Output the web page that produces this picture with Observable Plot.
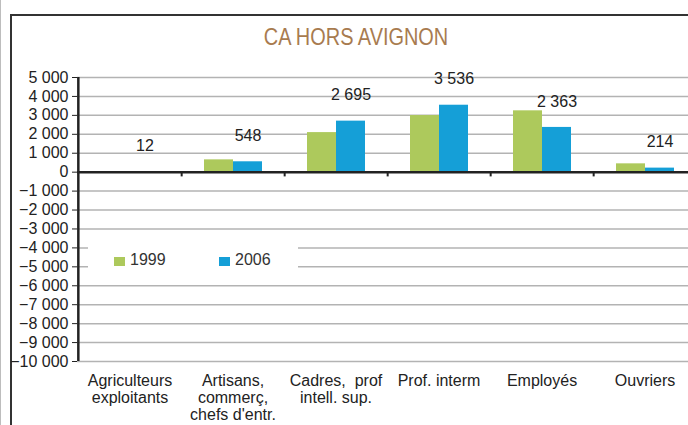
<!DOCTYPE html>
<html><head><meta charset="utf-8">
<script src="https://cdn.jsdelivr.net/npm/d3@7"></script>
<script src="https://cdn.jsdelivr.net/npm/@observablehq/plot@0.6"></script>
<style>
html,body{margin:0;padding:0;background:#fff;overflow:hidden;}
#wrap{position:relative;width:688px;height:425px;overflow:hidden;font-family:"Liberation Sans",Arial,sans-serif;}
#wrap svg{position:absolute;left:0;top:0;overflow:visible;}
.outer{position:absolute;left:0px;top:0;width:1px;height:425px;background:#bdbdbd;}
.frame{position:absolute;left:10px;top:14px;right:-5px;bottom:-5px;border-left:2px solid #333;border-top:2px solid #333;}
#title{position:absolute;left:206px;width:300px;top:23px;text-align:center;font-family:"Liberation Sans",Arial,sans-serif;font-size:24px;color:#a87b4f;white-space:nowrap;transform:scaleX(0.83);transform-origin:50% 50%;}
#legend{position:absolute;left:88px;top:240px;width:210px;height:38px;background:#fff;z-index:2;}
.sw{position:absolute;top:17px;width:11px;height:9px;}
.lt{position:absolute;top:11px;font-size:16px;color:#333;}
</style></head>
<body>
<div id="wrap">
  <div class="outer"></div>
  <div class="frame"></div>
  <div id="chart"></div>
  <div id="title">CA HORS AVIGNON</div>
  <div id="legend"></div>
</div>
<script>
const categories = ["Agriculteurs\nexploitants", "Artisans,\ncommerç,\nchefs d'entr.", "Cadres,  prof\nintell. sup.", "Prof. interm", "Employés", "Ouvriers"];
const series = ["1999", "2006"];
const v1999 = [20, 650, 2090, 2990, 3240, 440];
const v2006 = [12, 548, 2695, 3536, 2363, 214];
const yTicks = [5000, 4000, 3000, 2000, 1000, 0, -1000, -2000, -3000, -4000, -5000, -6000, -7000, -8000, -9000, -10000];
const colors = ["#adc95c", "#159fd7"];

const fmt = d => (d < 0 ? "\u2212" : "") + d3.format(",")(Math.abs(d)).replace(/,/g, " ");
const bw = 620 / 6;

const chart = Plot.plot({
  width: 688, height: 425,
  marginLeft: 77, marginRight: 0, marginTop: 77, marginBottom: 64,
  style: {fontFamily: "'Liberation Sans', Arial, sans-serif", fontSize: "16px", color: "#222", background: "transparent", overflow: "visible"},
  x: {domain: categories, range: [77, 697], padding: 0, axis: null},
  y: {domain: [-10000, 5000], ticks: yTicks, tickFormat: fmt, tickSize: 5, tickPadding: 4, label: null},
  marks: [
    Plot.ruleY(yTicks, {stroke: "#b3b3b3", strokeWidth: 1.5}),
    Plot.barY(categories, {x: categories, y: v1999, fill: colors[0], insetLeft: 23, insetRight: 51}),
    Plot.barY(categories, {x: categories, y: v2006, fill: colors[1], insetLeft: 52, insetRight: 22}),
    Plot.ruleY([0], {stroke: "#222", strokeWidth: 2.5}),
    Plot.ruleX(categories, {x: d => d, dx: bw / 2, y1: 0, y2: -250, stroke: "#222", strokeWidth: 2}),
    Plot.ruleX([categories[0]], {x: d => d, dx: -bw / 2, y1: -10000, y2: 5000, stroke: "#222", strokeWidth: 2.5}),
    Plot.text(categories, {x: categories, y: v2006, text: v2006.map(fmt), dx: 15, dy: -26, fontSize: 16, fill: "#222"}),
    Plot.text(categories, {x: categories, y: -10000, text: categories, dy: 12, lineAnchor: "top", fontSize: 16, lineHeight: 1.08, fill: "#222"})
  ]
});
document.getElementById("chart").appendChild(chart);

const leg = document.getElementById("legend");
const pos = [26, 131];
series.forEach((s, i) => {
  const sw = document.createElement("div");
  sw.className = "sw"; sw.style.left = pos[i] + "px"; sw.style.background = colors[i];
  const t = document.createElement("div");
  t.className = "lt"; t.style.left = (pos[i] + 16) + "px"; t.textContent = s;
  leg.appendChild(sw); leg.appendChild(t);
});
</script>
</body></html>
